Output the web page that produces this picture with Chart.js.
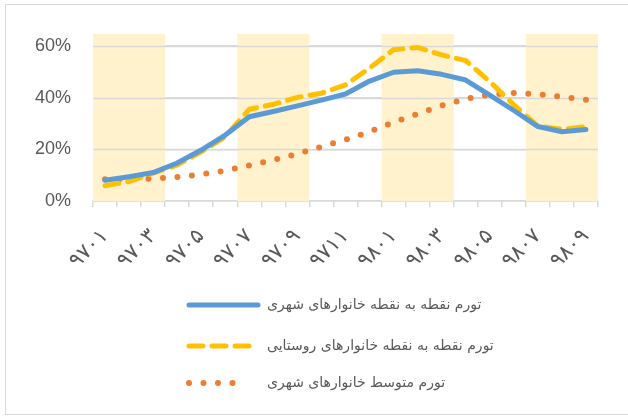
<!DOCTYPE html>
<html>
<head>
<meta charset="utf-8">
<script src="https://cdn.jsdelivr.net/npm/chart.js@4.4.1/dist/chart.umd.min.js"></script>
<style>
  html, body { margin: 0; padding: 0; background: #fff; overflow: hidden; }
  .frame { position: absolute; left: 5px; top: 4px; width: 640px; height: 409px; border: 1px solid #d9d9d9; }
  .wrap { position: absolute; left: 0; top: 0; width: 628px; height: 416px; }
</style>
</head>
<body>
<div class="frame"></div>
<div class="wrap"><canvas id="chart"></canvas></div>
<script>
// monthly periods 9701 .. 9809 (Persian digits)
const months = ['۹۷۰۱','۹۷۰۲','۹۷۰۳','۹۷۰۴','۹۷۰۵','۹۷۰۶','۹۷۰۷','۹۷۰۸','۹۷۰۹','۹۷۱۰','۹۷۱۱','۹۷۱۲',
                '۹۸۰۱','۹۸۰۲','۹۸۰۳','۹۸۰۴','۹۸۰۵','۹۸۰۶','۹۸۰۷','۹۸۰۸','۹۸۰۹'];

// point-to-point inflation, urban households (%)
const urbanPoint = [8.0, 9.4, 11.0, 14.7, 19.7, 25.5, 32.6, 34.6, 36.8, 39.0, 41.4,
                    46.4, 49.8, 50.4, 49.0, 46.8, 41.0, 35.0, 28.8, 26.8, 27.7];
// point-to-point inflation, rural households (%)
const ruralPoint = [5.9, 7.5, 10.8, 13.9, 19.0, 24.9, 35.5, 37.4, 40.1, 41.7, 44.9,
                    51.4, 58.5, 59.4, 56.5, 54.3, 46.2, 37.2, 29.0, 27.7, 28.8];
// average inflation, urban households (%)
const urbanAvg = [8.4, 8.4, 8.6, 9.3, 10.3, 11.7, 13.8, 15.9, 18.2, 21.0, 23.7,
                  26.8, 30.5, 33.7, 36.9, 39.5, 41.2, 41.8, 41.3, 40.3, 39.2];

const seriesNames = ['تورم نقطه به نقطه خانوارهای شهری',
                     'تورم نقطه به نقطه خانوارهای روستایی',
                     'تورم متوسط خانوارهای شهری'];

// shaded category ranges (first, last index)
const bands = [[0, 2], [6, 8], [12, 14], [18, 20]];
const yTicks = [0, 20, 40, 60];

const bandPlugin = {
  id: 'bands',
  beforeDatasetsDraw(chart) {
    const { ctx, chartArea, scales } = chart;
    const x = scales.x;
    const half = (x.getPixelForValue(1) - x.getPixelForValue(0)) / 2;
    ctx.save();
    ctx.fillStyle = '#fff2cc';
    bands.forEach(b => {
      const x0 = x.getPixelForValue(b[0]) - half;
      const x1 = x.getPixelForValue(b[1]) + half;
      ctx.fillRect(x0, chartArea.top, x1 - x0, chartArea.bottom - chartArea.top);
    });
    // gridlines stay visible on top of the bands
    ctx.strokeStyle = '#d9d9d9';
    ctx.lineWidth = 1.5;
    yTicks.slice(1).forEach(v => {
      const y = Math.round(scales.y.getPixelForValue(v)) + 0.5;
      ctx.beginPath();
      ctx.moveTo(chartArea.left, y);
      ctx.lineTo(chartArea.right, y);
      ctx.stroke();
    });
    ctx.restore();
  }
};

const legendPlugin = {
  id: 'customLegend',
  afterDraw(chart) {
    const { ctx } = chart;
    const rows = [305, 346, 383];
    const ends = [258, 252, 247];
    ctx.save();
    chart.data.datasets.forEach((ds, i) => {
      const y = rows[i];
      ctx.strokeStyle = ds.borderColor;
      ctx.lineWidth = ds.borderWidth;
      ctx.lineCap = 'round';
      ctx.setLineDash(ds.borderDash || []);
      ctx.beginPath();
      ctx.moveTo(189, y);
      ctx.lineTo(ends[i], y);
      ctx.stroke();
      ctx.setLineDash([]);
      ctx.fillStyle = '#595959';
      ctx.font = '14px "DejaVu Sans", sans-serif';
      ctx.textBaseline = 'middle';
      ctx.direction = 'rtl';
      ctx.textAlign = 'right';
      const w = ctx.measureText(ds.label).width;
      ctx.fillText(ds.label, 267 + w, y);
    });
    ctx.restore();
  }
};

new Chart(document.getElementById('chart'), {
  type: 'line',
  data: {
    labels: months,
    datasets: [
      { label: seriesNames[0], data: urbanPoint, borderColor: '#5b9bd5', borderWidth: 5,
        pointRadius: 0, tension: 0, borderCapStyle: 'round', borderJoinStyle: 'round' },
      { label: seriesNames[1], data: ruralPoint, borderColor: '#ffc000', borderWidth: 5,
        borderDash: [14, 9], pointRadius: 0, tension: 0, borderCapStyle: 'round' },
      { label: seriesNames[2], data: urbanAvg, borderColor: '#ed7d31', borderWidth: 6,
        borderDash: [0, 14.5], pointRadius: 0, tension: 0, borderCapStyle: 'round' }
    ]
  },
  options: {
    responsive: true,
    maintainAspectRatio: false,
    animation: false,
    layout: { padding: { left: 20, right: 30, top: 34, bottom: 145 } },
    plugins: { legend: { display: false }, tooltip: { enabled: false } },
    scales: {
      x: {
        offset: true,
        afterFit: axis => { axis.height = 70; },
        grid: { offset: true, drawOnChartArea: false, drawTicks: true, tickLength: 6, color: '#d9d9d9', lineWidth: 1.5 },
        border: { color: '#d9d9d9', width: 1.5 },
        ticks: {
          autoSkip: false, maxRotation: 45, minRotation: 45, padding: 17,
          color: '#595959', font: { size: 21, family: '"DejaVu Sans", sans-serif' },
          callback: (v, i) => (i % 2 === 0 ? months[i] : '')
        }
      },
      y: {
        min: 0,
        max: 64.6,
        afterFit: axis => { axis.width = 73; },
        afterBuildTicks: axis => { axis.ticks = yTicks.map(v => ({ value: v })); },
        grid: { color: '#d9d9d9', lineWidth: 1.5, drawTicks: false },
        border: { display: false },
        ticks: {
          padding: 22, color: '#595959', font: { size: 18, family: '"Liberation Sans", sans-serif' },
          callback: v => v + '%'
        }
      }
    }
  },
  plugins: [bandPlugin, legendPlugin]
});
</script>
</body>
</html>
